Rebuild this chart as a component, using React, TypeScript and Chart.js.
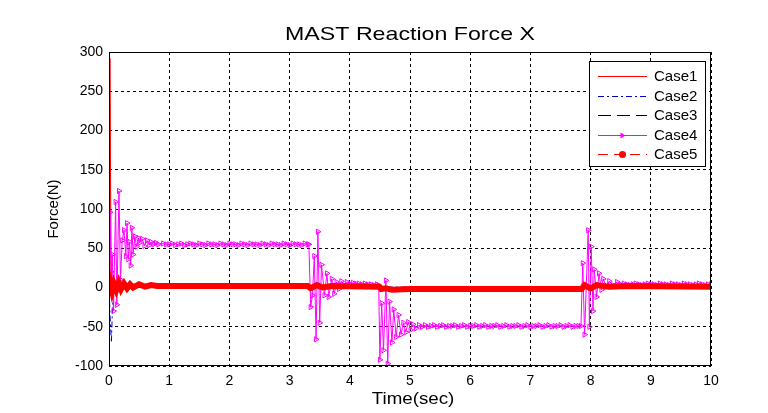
import React, { useEffect, useRef } from "react";
import { Chart, registerables } from "chart.js";

Chart.register(...registerables);

const chartTitle = "MAST Reaction Force X";
const xAxisTitle = "Time(sec)";
const yAxisTitle = "Force(N)";
const xTicks = [0, 1, 2, 3, 4, 5, 6, 7, 8, 9, 10];
const yTicks = [-100, -50, 0, 50, 100, 150, 200, 250, 300];
const seriesNames = ["Case1", "Case2", "Case3", "Case4", "Case5"];

const case1Time = [0, 0.015, 0.025, 0.035, 0.05, 0.07, 0.1, 0.15, 1, 3.3, 4.5, 7.85, 10];
const case1Force = [0, 292, 150, 30, -15, 8, -3, 2, 1, 1, -1, 1, 1];

const case2Time = [0, 0.02, 0.04, 0.06, 0.08, 0.12, 0.2, 10];
const case2Force = [0, -40, -70, -20, 5, -3, 1, 0];

const case3Time = [0, 0.02, 0.05, 0.1, 0.2, 10];
const case3Force = [0, 10, -8, 4, 0, 0];

const case4Time = [
  // start-up ringing
  0, 0.017, 0.035, 0.055, 0.075, 0.11, 0.13, 0.166, 0.19, 0.22, 0.25, 0.28, 0.3, 0.32, 0.34, 0.36, 0.38, 0.4, 0.43,
  0.46, 0.49, 0.51, 0.55, 0.59, 0.63, 0.67, 0.7, 0.74, 0.78, 0.82, 0.9, 0.95, 1.0,
  // plateau ~55
  1.05, 1.1, 1.15, 1.2, 1.25, 1.3, 1.35, 1.4, 1.45, 1.5, 1.55, 1.6, 1.65, 1.7, 1.75, 1.8, 1.85, 1.9, 1.95, 2.0,
  2.05, 2.1, 2.15, 2.2, 2.25, 2.3, 2.35, 2.4, 2.45, 2.5, 2.55, 2.6, 2.65, 2.7, 2.75, 2.8, 2.85, 2.9, 2.95, 3.0,
  3.05, 3.1, 3.15, 3.2, 3.25, 3.3,
  // drop at ~3.3 s
  3.32, 3.35, 3.38, 3.41, 3.44, 3.47, 3.5, 3.53, 3.58, 3.62, 3.65, 3.7, 3.74, 3.78, 3.82, 3.86, 3.9, 3.95, 4.0,
  4.05, 4.1, 4.15, 4.2, 4.25, 4.3, 4.35, 4.4, 4.45, 4.48,
  // drop at ~4.5 s
  4.5, 4.53, 4.56, 4.6, 4.63, 4.66, 4.7, 4.73, 4.77, 4.81, 4.85, 4.89, 4.93, 4.97, 5.01, 5.05, 5.1, 5.15, 5.2,
  // plateau ~-49
  5.25, 5.3, 5.35, 5.4, 5.45, 5.5, 5.55, 5.6, 5.65, 5.7, 5.75, 5.8, 5.85, 5.9, 5.95, 6.0, 6.05, 6.1, 6.15, 6.2,
  6.25, 6.3, 6.35, 6.4, 6.45, 6.5, 6.55, 6.6, 6.65, 6.7, 6.75, 6.8, 6.85, 6.9, 6.95, 7.0, 7.05, 7.1, 7.15, 7.2,
  7.25, 7.3, 7.35, 7.4, 7.45, 7.5, 7.55, 7.6, 7.65, 7.7, 7.75, 7.8,
  // jump at ~7.85 s
  7.84, 7.87, 7.9, 7.96, 7.98, 8.01, 8.04, 8.06, 8.1, 8.14, 8.18, 8.21, 8.26, 8.31, 8.37, 8.44, 8.5,
  // tail ~4
  8.55, 8.6, 8.65, 8.7, 8.75, 8.8, 8.85, 8.9, 8.95, 9.0, 9.05, 9.1, 9.15, 9.2, 9.25, 9.3, 9.35, 9.4, 9.45, 9.5,
  9.55, 9.6, 9.65, 9.7, 9.75, 9.8, 9.85, 9.9, 9.95, 10.0,
];
const case4Force = [
  0, 96, 20, 42, -30, 109, -22, 123, 10, 60, 73, 40, 82, 36, 58, 28, 76, 42, 65,
  52, 63, 57, 62, 53, 60, 54, 58, 55, 57, 55, 56, 55, 55,
  56, 54, 55, 56, 54, 55, 56, 55, 54, 56, 55, 54, 56, 55, 55, 54, 56, 55, 54, 56,
  55, 55, 54, 56, 55, 54, 56, 55, 55, 54, 56, 55, 54, 56, 55, 55, 54, 56, 55, 54,
  56, 55, 55, 54, 56, 55,
  55, -25, -10, 40, -66, 71, -45, 29, -10, 18, -12, 11, -8, 7, -2, 8, 3, 7, 5,
  6, 5, 5, 4, 5, 4, 4, 3, 4, 3,
  -92, -20, -80, 9, -97, -18, -70, -28, -63, -35, -60, -45, -57, -44, -54, -47, -52, -48, -50,
  -48, -50, -49, -48, -50, -49, -48, -50, -49, -49, -48, -50, -49, -48, -50, -49, -49, -48, -50, -49,
  -48, -50, -49, -49, -48, -50, -49, -48, -50, -49, -49, -48, -50, -49, -48, -50, -49, -49, -48, -50,
  -49, -48, -50, -49, -49, -48, -50, -49, -48, -50, -49, -49,
  -49, 31, -60, 73, -50, 52, -30, 23, -12, 18, -3, 11, 1, 8, 3, 7, 4,
  5, 4, 3, 4, 5, 4, 3, 4, 5, 4, 4, 3, 5, 4, 4, 3, 5, 4, 4, 3,
  5, 4, 4, 3, 4, 5, 4, 3, 4, 4,
];

const case5Time = [
  0, 0.02, 0.05, 0.08, 0.12, 0.16, 0.2, 0.25, 0.3, 0.35, 0.4, 0.5, 0.6, 0.7, 0.8, 1.0, 2.0, 3.3, 3.35, 3.45, 3.55, 3.7,
  4.49, 4.52, 4.6, 4.7, 5.0, 7.85, 7.9, 8.0, 8.1, 8.3, 8.6, 10,
];
const case5Force = [
  0, 6, -4, 5, -3, 6, -2, 5, -1, 4, 0, 4, 1, 3, 2, 2, 2, 2, -1, 3, 0, 2,
  1, -2, -1, -3, -2, -2, 3, -1, 3, 1, 2, 1,
];

const toPoints = (t: number[], v: number[]) => t.map((x, i) => ({ x, y: v[i] }));

const FONT = 'Arial, "Liberation Sans", sans-serif';

const overlayPlugin = {
  id: "overlay",
  afterDraw(chart: any) {
    const ctx = chart.ctx as CanvasRenderingContext2D;
    const { left, top, right, bottom } = chart.chartArea;
    ctx.save();
    ctx.setLineDash([]);
    ctx.strokeStyle = "#000";
    ctx.lineWidth = 1;
    ctx.strokeRect(left + 0.5, top + 0.5, right - left - 1, bottom - top - 1);

    ctx.fillStyle = "#000";
    ctx.save();
    ctx.font = `19px ${FONT}`;
    ctx.textAlign = "center";
    ctx.textBaseline = "alphabetic";
    ctx.translate((left + right) / 2, 40);
    ctx.scale(1.22, 1);
    ctx.fillText(chartTitle, 0, 0);
    ctx.restore();

    ctx.save();
    ctx.font = `16px ${FONT}`;
    ctx.textAlign = "center";
    ctx.textBaseline = "alphabetic";
    ctx.translate((left + right) / 2 + 3, 404);
    ctx.scale(1.17, 1);
    ctx.fillText(xAxisTitle, 0, 0);
    ctx.restore();

    ctx.save();
    ctx.font = `15px ${FONT}`;
    ctx.textAlign = "center";
    ctx.textBaseline = "alphabetic";
    ctx.translate(58, (top + bottom) / 2);
    ctx.rotate(-Math.PI / 2);
    ctx.fillText(yAxisTitle, 0, 0);
    ctx.restore();

    const bx = 589, by = 61, bw = 116, bh = 105;
    ctx.fillStyle = "#fff";
    ctx.fillRect(bx, by, bw, bh);
    ctx.strokeStyle = "#000";
    ctx.lineWidth = 1;
    ctx.strokeRect(bx + 0.5, by + 0.5, bw, bh);
    chart.data.datasets.forEach((ds: any, i: number) => {
      const y = 76 + i * 19.5;
      const x1 = 598, x2 = 647, xc = (x1 + x2) / 2;
      const yl = Math.round(y) + 0.5;
      ctx.save();
      ctx.strokeStyle = ds.borderColor;
      ctx.lineWidth = 1;
      ctx.setLineDash(ds.legendDash || []);
      ctx.beginPath();
      ctx.moveTo(x1, yl);
      ctx.lineTo(x2, yl);
      ctx.stroke();
      ctx.setLineDash([]);
      if (ds.legendMarker === "triangle") {
        ctx.fillStyle = ds.borderColor;
        ctx.beginPath();
        ctx.moveTo(xc + 3, yl);
        ctx.lineTo(xc - 2, yl - 3);
        ctx.lineTo(xc - 2, yl + 3);
        ctx.closePath();
        ctx.fill();
      } else if (ds.legendMarker === "circle") {
        ctx.fillStyle = ds.borderColor;
        ctx.beginPath();
        ctx.arc(xc, yl, 3.5, 0, Math.PI * 2);
        ctx.fill();
      }
      ctx.fillStyle = "#000";
      ctx.font = `15px ${FONT}`;
      ctx.textAlign = "left";
      ctx.textBaseline = "middle";
      ctx.fillText(ds.label, 654, y + 1);
      ctx.restore();
    });
    ctx.restore();
  },
};

export default function App() {
  const ref = useRef<HTMLCanvasElement | null>(null);

  useEffect(() => {
    document.body.style.margin = "0";
    const canvas = ref.current;
    if (!canvas) return;
    const chart = new Chart(canvas, {
      type: "line",
      data: {
        datasets: [
          {
            label: seriesNames[0],
            data: toPoints(case1Time, case1Force),
            borderColor: "#ff0000",
            borderWidth: 1,
            pointRadius: 0,
            tension: 0,
            order: 5,
            legendDash: [],
          } as any,
          {
            label: seriesNames[1],
            data: toPoints(case2Time, case2Force),
            borderColor: "#0000cc",
            borderWidth: 1,
            borderDash: [6, 3, 2, 3],
            pointRadius: 0,
            tension: 0,
            order: 4,
            legendDash: [6, 3, 2, 3],
          } as any,
          {
            label: seriesNames[2],
            data: toPoints(case3Time, case3Force),
            borderColor: "#000000",
            borderWidth: 1,
            borderDash: [12, 6],
            pointRadius: 0,
            tension: 0,
            order: 3,
            legendDash: [13, 6],
          } as any,
          {
            label: seriesNames[3],
            data: toPoints(case4Time, case4Force),
            borderColor: "#ff00ff",
            borderWidth: 1,
            pointStyle: "triangle",
            rotation: 90,
            pointRadius: 3,
            pointBorderWidth: 1,
            pointBorderColor: "#ff00ff",
            pointBackgroundColor: "rgba(255,255,255,0)",
            tension: 0,
            order: 2,
            legendDash: [],
            legendMarker: "triangle",
          } as any,
          {
            label: seriesNames[4],
            data: toPoints(case5Time, case5Force),
            borderColor: "#ff0000",
            borderWidth: 6,
            pointRadius: 0,
            tension: 0,
            order: 1,
            legendDash: [10, 6],
            legendMarker: "circle",
          } as any,
        ],
      },
      options: {
        animation: false,
        responsive: false,
        events: [],
        layout: { padding: { left: 0, right: 57, top: 52, bottom: 0 } },
        plugins: {
          legend: { display: false },
          title: { display: false },
          tooltip: { enabled: false },
        },
        scales: {
          x: {
            type: "linear",
            min: xTicks[0],
            max: xTicks[xTicks.length - 1],
            afterBuildTicks: (scale: any) => {
              scale.ticks = xTicks.map((v) => ({ value: v }));
            },
            afterFit: (scale: any) => {
              scale.height = 47;
            },
            ticks: {
              color: "#000",
              font: { family: FONT, size: 14 },
              padding: 7,
              maxRotation: 0,
              autoSkip: false,
            },
            grid: { color: "#000", lineWidth: 1, drawTicks: false },
            border: { display: false, dash: [3, 3] },
          },
          y: {
            type: "linear",
            min: yTicks[0],
            max: yTicks[yTicks.length - 1],
            afterBuildTicks: (scale: any) => {
              scale.ticks = yTicks.map((v) => ({ value: v }));
            },
            afterFit: (scale: any) => {
              scale.width = 109;
            },
            ticks: {
              color: "#000",
              font: { family: FONT, size: 14 },
              padding: 6,
              autoSkip: false,
            },
            grid: { color: "#000", lineWidth: 1, drawTicks: false },
            border: { display: false, dash: [3, 3] },
          },
        },
      },
      plugins: [overlayPlugin],
    });
    return () => chart.destroy();
  }, []);

  return (
    <div style={{ width: 768, height: 413, background: "#fff" }}>
      <canvas ref={ref} width={768} height={413} style={{ display: "block" }} />
    </div>
  );
}
